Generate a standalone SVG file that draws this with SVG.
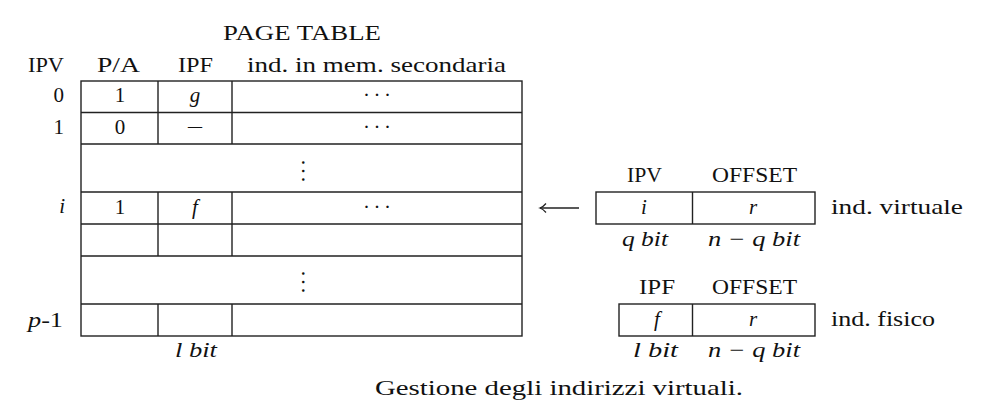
<svg xmlns="http://www.w3.org/2000/svg" width="1007" height="419" viewBox="0 0 1007 419">
<defs>
<style>
text{font-family:"Liberation Serif","Times New Roman",serif;font-size:21px;fill:#111;}
.it{font-style:italic;}
.m{text-anchor:middle;}
.r{text-anchor:end;}
.ln{stroke:#222;stroke-width:1.4;fill:none;}
.box{stroke:#222;stroke-width:1.4;fill:#fff;}
</style>
<marker id="ah" markerWidth="12" markerHeight="12" refX="7" refY="6" orient="auto" markerUnits="userSpaceOnUse">
<path d="M1,1.5 Q4,5 7,6 Q4,7 1,10.5" stroke="#222" stroke-width="1.2" fill="none"/>
</marker>
</defs>
<rect width="1007" height="419" fill="#fff"/>

<g id="page-table">
<text x="223" y="40" textLength="158" lengthAdjust="spacingAndGlyphs">PAGE TABLE</text>
<text x="28" y="72" textLength="36" lengthAdjust="spacingAndGlyphs">IPV</text>
<text x="97" y="72" textLength="43" lengthAdjust="spacingAndGlyphs">P/A</text>
<text x="178" y="72" textLength="35" lengthAdjust="spacingAndGlyphs">IPF</text>
<text x="247" y="72" textLength="259" lengthAdjust="spacingAndGlyphs">ind. in mem. secondaria</text>

<rect class="box" x="81" y="81" width="441" height="255"/>
<path class="ln" d="M81,112.5H522M81,144H522M81,192H522M81,224H522M81,256H522M81,304H522"/>
<path class="ln" d="M158,81V144M232,81V144M158,192V256M232,192V256M158,304V336M232,304V336"/>

<text class="r" x="64" y="102">0</text>
<text class="r" x="64" y="134">1</text>
<text class="r it" x="65" y="213">i</text>
<text x="28" y="327" textLength="35" lengthAdjust="spacingAndGlyphs"><tspan class="it">p</tspan>-1</text>

<text class="m" x="120" y="102">1</text>
<text class="m it" x="195" y="102">g</text>
<text class="m" x="377" y="102" textLength="28" lengthAdjust="spacing">· · ·</text>

<text class="m" x="120" y="134">0</text>
<text class="m" x="195" y="133" fill="#555" textLength="14" lengthAdjust="spacingAndGlyphs">–</text>
<text class="m" x="377" y="134" textLength="28" lengthAdjust="spacing">· · ·</text>

<text class="m" x="296" y="171" transform="rotate(90 296 171)" textLength="24" lengthAdjust="spacing">· · ·</text>

<text class="m" x="120" y="214">1</text>
<text class="m it" x="195" y="214">f</text>
<text class="m" x="377" y="214" textLength="28" lengthAdjust="spacing">· · ·</text>

<text class="m" x="296" y="282" transform="rotate(90 296 282)" textLength="24" lengthAdjust="spacing">· · ·</text>

<text class="it" x="175" y="357" textLength="42" lengthAdjust="spacingAndGlyphs">l  bit</text>
</g>

<g id="virtual-address">
<text x="627" y="182" textLength="35" lengthAdjust="spacingAndGlyphs">IPV</text>
<text x="712" y="182" textLength="85" lengthAdjust="spacingAndGlyphs">OFFSET</text>
<rect class="box" x="596" y="192" width="219" height="32"/>
<path class="ln" d="M692.5,192V224"/>
<text class="m it" x="644" y="214">i</text>
<text class="m it" x="753" y="214">r</text>
<text x="831" y="214" textLength="132" lengthAdjust="spacingAndGlyphs">ind. virtuale</text>
<text class="it" x="622" y="246" textLength="46" lengthAdjust="spacingAndGlyphs">q  bit</text>
<text class="it" x="708" y="246" textLength="92" lengthAdjust="spacingAndGlyphs">n − q  bit</text>
</g>

<g id="physical-address">
<text x="639" y="294" textLength="36" lengthAdjust="spacingAndGlyphs">IPF</text>
<text x="712" y="294" textLength="85" lengthAdjust="spacingAndGlyphs">OFFSET</text>
<rect class="box" x="619" y="304" width="196" height="32"/>
<path class="ln" d="M692.5,304V336"/>
<text class="m it" x="657" y="326">f</text>
<text class="m it" x="753" y="326">r</text>
<text x="831" y="326" textLength="104" lengthAdjust="spacingAndGlyphs">ind. fisico</text>
<text class="it" x="633" y="357" textLength="45" lengthAdjust="spacingAndGlyphs">l  bit</text>
<text class="it" x="708" y="357" textLength="92" lengthAdjust="spacingAndGlyphs">n − q  bit</text>
</g>

<g id="connectors">
<line class="ln" x1="579" y1="208" x2="540" y2="208" marker-end="url(#ah)" stroke-width="1.2"/>
</g>

<text x="375" y="395" textLength="368" lengthAdjust="spacingAndGlyphs">Gestione degli indirizzi virtuali.</text>
</svg>
